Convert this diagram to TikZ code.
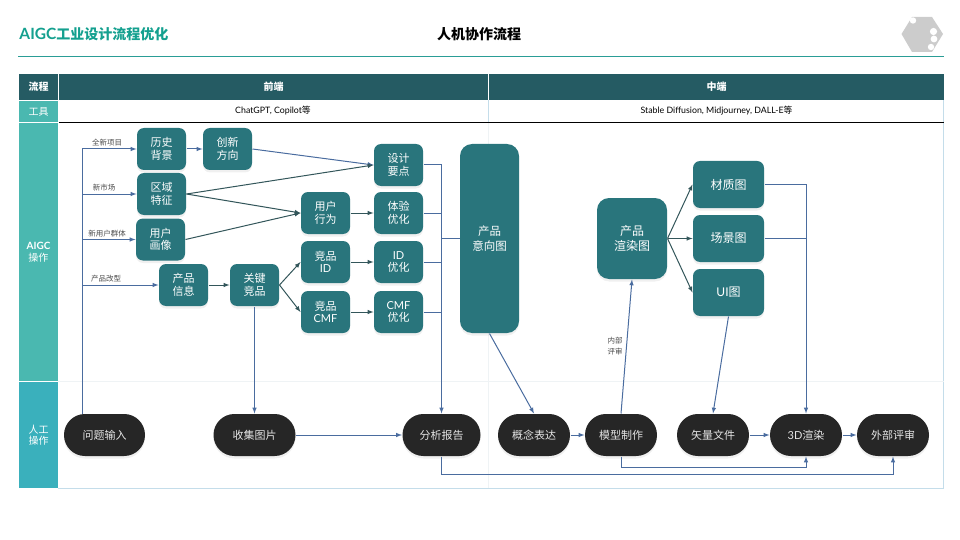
\documentclass[tikz,border=0pt]{standalone}
\usepackage{fontspec}
\setmainfont{Noto Sans CJK SC}
\newfontfamily\latfont{Lato}
\usetikzlibrary{shadows}
\definecolor{headcol}{HTML}{255B63}
\definecolor{boxcol}{HTML}{29757C}
\definecolor{pillcol}{HTML}{262626}
\definecolor{aigccol}{HTML}{4AB8B0}
\definecolor{mancol}{HTML}{3AB0BC}
\definecolor{titlecol}{HTML}{14A08F}
\definecolor{rulecol}{HTML}{2A9D96}
\definecolor{framecol}{HTML}{C4DDEA}
\definecolor{faintcol}{HTML}{EFF3F5}
\definecolor{flowcol}{HTML}{4A6C9F}
\definecolor{darkflow}{HTML}{33565A}
\begin{document}
\begin{tikzpicture}[x=1pt, y=-1pt, >=latex, line width=1pt,
  main node/.style={rounded corners=7pt,fill=boxcol,text=white,minimum width=49pt,minimum height=42pt,inner sep=0pt,align=center,
    font=\fontsize{11}{12.5}\selectfont,drop shadow={shadow xshift=0pt,shadow yshift=-2.5pt,opacity=0.12}},
  view node/.style={main node,minimum width=71pt,minimum height=47pt,font=\fontsize{12}{14}\selectfont},
  pill node/.style={main node,fill=pillcol,text=white!90!black,minimum height=42pt,rounded corners=20.9pt,font=\fontsize{11}{12}\selectfont},
  head node/.style={fill=headcol,text=white,inner sep=0pt,minimum height=26pt,font=\fontsize{10}{12}\selectfont\bfseries},
  side node/.style={text=white,inner sep=0pt,minimum width=39pt,align=center,font=\fontsize{10}{11.5}\selectfont},
  tool node/.style={inner sep=0pt,font=\fontsize{8.8}{10}\selectfont},
  tag node/.style={inner sep=0pt,align=center,text=black!70,font=\fontsize{7.5}{10.5}\selectfont},
  flow/.style={draw=flowcol,->},
  dark/.style={draw=darkflow,->}]

  \useasboundingbox (0,0) rectangle (960,540);

  \node[inner sep=0pt,anchor=west,text=titlecol,font=\fontsize{14}{16}\selectfont\bfseries] (title) at (19,34) {{\fontsize{15.5}{16}\selectfont\latfont AIGC}工业设计流程优化};
  \node[inner sep=0pt,font=\fontsize{14}{16}\selectfont\bfseries] (subtitle) at (479,34.5) {人机协作流程};
  \fill[black!20] (901.5,34) -- (912,17) -- (932,17) -- (943,34) -- (932,52) -- (912,52) -- cycle;
  \fill[white] (913,20.5) circle (3.2) (933.5,31.5) circle (3.6) (934,39) circle (3.4) (931,47) circle (3.2);
  \draw[rulecol] (18,56.5) -- (944,56.5);

  \draw[framecol] (943.5,100) -- (943.5,488) -- (58,488);
  \draw[faintcol] (58,381) -- (944,381);
  \draw[faintcol] (488.5,122) -- (488.5,488);
  \draw[framecol] (488.5,100) -- (488.5,122);

  \node[head node,minimum width=39pt] (flowhead) at (38.5,87) {流程};
  \node[head node,minimum width=429pt] (fronthead) at (273.5,87) {前端};
  \node[head node,minimum width=455pt] (midhead) at (716.5,87) {中端};
  \node[side node,fill=aigccol,minimum height=21pt] (toolside) at (38.5,111.5) {工具};
  \node[side node,fill=aigccol,minimum height=258pt] (aigcside) at (38.5,252) {{\latfont\bfseries AIGC}\\操作};
  \node[side node,fill=mancol,minimum height=106pt] (manside) at (38.5,435) {人工\\操作};
  \node[tool node] (fronttool) at (273,111) {{\latfont ChatGPT, Copilot}等};
  \node[tool node] (midtool) at (716.5,111) {{\latfont Stable Diffusion, Midjourney, DALL-E}等};
  \draw[black] (59,122.5) -- (944,122.5);

  \node[main node] (hist) at (161.5,149) {历史\\背景};
  \node[main node] (trend) [right of=hist,node distance=66pt] {创新\\方向};
  \node[main node] (region) [below of=hist,node distance=45pt] {区域\\特征};
  \node[main node] (persona) at (160.5,239.5) {用户\\画像};
  \node[main node] (info) at (183.5,285) {产品\\信息};
  \node[main node] (rival) [right of=info,node distance=71pt] {关键\\竞品};
  \node[main node] (behave) at (325.5,213) {用户\\行为};
  \node[main node] (rivalid) [below of=behave,node distance=49pt] {竞品\\{\latfont ID}};
  \node[main node] (rivalcmf) [below of=rivalid,node distance=50pt] {竞品\\{\latfont CMF}};
  \node[main node] (point) at (398.5,165) {设计\\要点};
  \node[main node] (exp) [right of=behave,node distance=73pt] {体验\\优化};
  \node[main node] (idopt) [right of=rivalid,node distance=73pt] {{\latfont ID}\\优化};
  \node[main node] (cmfopt) [right of=rivalcmf,node distance=73pt] {{\latfont CMF}\\优化};
  \node[main node,minimum width=59pt,minimum height=189pt,rounded corners=12pt,font=\fontsize{11.5}{15}\selectfont] (intent) at (489.5,238.5) {产品\\意向图};
  \node[main node,minimum width=70pt,minimum height=81pt,rounded corners=12pt,font=\fontsize{12}{15}\selectfont] (rendering) at (632,238.5) {产品\\渲染图};
  \node[view node] (material) at (728.5,184.5) {材质图};
  \node[view node] (scene) [below of=material,node distance=54pt] {场景图};
  \node[view node] (uimap) [below of=scene,node distance=54pt] {{\latfont UI}图};

  \node[pill node,minimum width=81pt] (input) at (104.5,435) {问题输入};
  \node[pill node,minimum width=82pt] (collect) [right of=input,node distance=150pt] {收集图片};
  \node[pill node,minimum width=78pt] (report) at (441.5,435) {分析报告};
  \node[pill node,minimum width=72pt] (concept) at (534,435) {概念表达};
  \node[pill node,minimum width=72pt] (model) [right of=concept,node distance=87pt] {模型制作};
  \node[pill node,minimum width=72pt] (vector) [right of=model,node distance=92pt] {矢量文件};
  \node[pill node,minimum width=72pt] (render) [right of=vector,node distance=93pt] {{\latfont 3D}渲染};
  \node[pill node,minimum width=72pt] (review) [right of=render,node distance=87pt] {外部评审};

  \node[tag node] (tagnew) at (107,142.5) {全新项目};
  \node[tag node] (tagmarket) at (104,187.5) {新市场};
  \node[tag node] (taguser) at (107,233.5) {新用户群体};
  \node[tag node] (tagchange) at (106,278.5) {产品改型};
  \node[tag node] (taginner) at (615,346) {内部\\评审};

  \coordinate (trunk) at (82.5,300);
  \coordinate (low) at (600,474.5);
  \coordinate (mid) at (700,467.5);

  \draw[flow] (input.north -| trunk) |- (hist.west);
  \draw[flow] (region.west -| trunk) -- (region.west);
  \draw[flow] (persona.west -| trunk) -- (persona.west);
  \draw[flow] (info.west -| trunk) -- (info.west);

  \draw[flow] (hist) -- (trend);
  \draw[flow] (trend.east) -- (point.west);
  \draw[dark] (region.east) -- (point.west);
  \draw[dark] (region.east) -- (behave.west);
  \draw[dark] (persona.east) -- (behave.west);
  \draw[dark] (info) -- (rival);
  \draw[dark] (rival.east) -- (rivalid.west);
  \draw[dark] (rival.east) -- (rivalcmf.west);
  \draw[dark] (behave) -- (exp);
  \draw[dark] (rivalid) -- (idopt);
  \draw[dark] (rivalcmf) -- (cmfopt);

  \draw[flow] (point.east) -| (report.north);
  \draw[draw=flowcol] (exp.east) -- (exp.east -| report.north);
  \draw[draw=flowcol] (idopt.east) -- (idopt.east -| report.north);
  \draw[draw=flowcol] (cmfopt.east) -- (cmfopt.east -| report.north);
  \draw[draw=flowcol] (intent.west) -- (intent.west -| report.north);

  \draw[flow] (rival) -- (collect);
  \draw[flow] (collect) -- (report);
  \draw[flow] (report.south) |- (low) -| (review.south);
  \draw[flow] (intent.south) -- (concept.north);
  \draw[flow] (concept) -- (model);
  \draw[flow] (model.north) -- (rendering.south);
  \draw[flow] (model.south) |- (mid) -| (render.south);

  \draw[dark] (rendering.east) -- (material.west);
  \draw[dark] (rendering.east) -- (scene.west);
  \draw[dark] (rendering.east) -- (uimap.west);
  \draw[flow] (material.east) -| (render.north);
  \draw[draw=flowcol] (scene.east) -- (scene.east -| render.north);
  \draw[flow] (uimap.south) -- (vector.north);
  \draw[flow] (vector) -- (render);
  \draw[flow] (render) -- (review);
\end{tikzpicture}
\end{document}
